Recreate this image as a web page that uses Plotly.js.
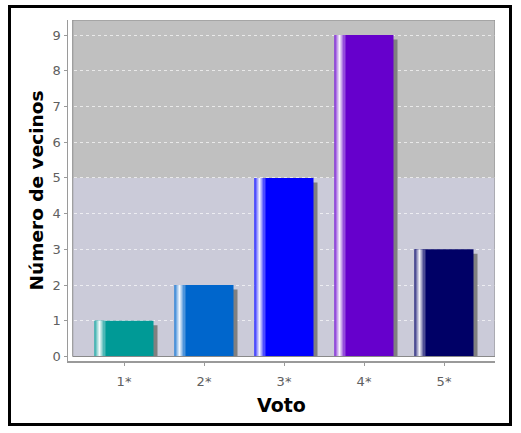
<!DOCTYPE html>
<html>
<head>
<meta charset="utf-8">
<script src="https://cdn.plot.ly/plotly-3.0.1.min.js"></script>
<style>
  body { margin: 0; background: #fff; }
  #wrap { position: relative; width: 521px; height: 433px; }
  #chart { width: 521px; height: 433px; }
  #frame { position: absolute; left: 8px; top: 5px; width: 498px; height: 415px;
           border: 3px solid #000; pointer-events: none; }
</style>
</head>
<body>
<div id="wrap">
  <div id="chart"></div>
  <div id="frame"></div>
</div>
<script>
// Data
let votos = ["1*", "2*", "3*", "4*", "5*"];
let vecinos = [1, 2, 5, 9, 3];
let barColors = ["#009a96", "#0066cc", "#0000ff", "#6600cc", "#000066"];
let yTicks = [0, 1, 2, 3, 4, 5, 6, 7, 8, 9];

// Mix a hex colour with white
function lighten(hex, t) {
    let n = parseInt(hex.slice(1), 16);
    let r = (n >> 16) & 255, g = (n >> 8) & 255, b = n & 255;
    let f = c => Math.round(c + (255 - c) * t);
    return "rgb(" + f(r) + "," + f(g) + "," + f(b) + ")";
}

// Geometry of the bars in category units (80 px per category)
let px = 1 / 80;
let barW = 59 * px;
let left = -barW / 2;
let shadowDx = 4 * px;
let shadowDy = 4.5 / 35.72;

let xRange = [-0.70, 4.6375];
let yRange = [-0.126, 9.42];
let bgLeft = -0.641;

let common = { type: 'bar', x: votos, hoverinfo: 'skip', showlegend: false };

let traces = [
    // shadow
    Object.assign({}, common, {
        y: vecinos.map(v => v - shadowDy),
        offset: left + shadowDx, width: barW,
        marker: { color: '#808080', line: { width: 0 } }
    }),
    // main bars
    Object.assign({}, common, {
        y: vecinos, offset: left, width: barW,
        marker: { color: barColors, line: { width: 0 } }
    }),
    // gradient highlight strips on the left of each bar
    Object.assign({}, common, {
        y: vecinos, offset: left, width: 11 * px,
        marker: { color: barColors.map(c => lighten(c, 0.3)), line: { width: 0 } }
    }),
    Object.assign({}, common, {
        y: vecinos, offset: left + 2 * px, width: 6 * px,
        marker: { color: barColors.map(c => lighten(c, 0.65)), line: { width: 0 } }
    }),
    Object.assign({}, common, {
        y: vecinos, offset: left + 4 * px, width: 2 * px,
        marker: { color: barColors.map(c => lighten(c, 0.95)), line: { width: 0 } }
    })
];

let layout = {
    width: 521,
    height: 433,
    margin: { l: 68, r: 26, t: 20, b: 72 },
    paper_bgcolor: '#ffffff',
    plot_bgcolor: '#ffffff',
    barmode: 'overlay',
    hovermode: false,
    showlegend: false,
    font: { family: 'DejaVu Sans, Verdana, sans-serif', color: '#555555', size: 12 },
    xaxis: {
        type: 'category',
        range: xRange,
        fixedrange: true,
        showgrid: false,
        zeroline: false,
        showline: true,
        linecolor: '#9a9a9a',
        linewidth: 1.5,
        ticks: 'outside',
        ticklen: 3,
        tickcolor: '#9a9a9a',
        ticklabelstandoff: 5,
        tickfont: { size: 13, color: '#606060' },
        title: {
            text: 'Voto',
            font: { size: 19, color: '#000000', weight: 'bold' },
            standoff: 10
        }
    },
    yaxis: {
        range: yRange,
        fixedrange: true,
        tickvals: yTicks,
        automargin: true,
        showgrid: true,
        gridcolor: 'rgba(255,255,255,0.65)',
        griddash: '3px,3px',
        gridwidth: 1,
        zeroline: false,
        showline: true,
        linecolor: '#9a9a9a',
        linewidth: 1.5,
        ticks: 'outside',
        ticklen: 3,
        tickcolor: '#9a9a9a',
        tickfont: { size: 13, color: '#606060' },
        title: {
            text: 'Número de vecinos',
            font: { size: 18.5, color: '#000000', weight: 'bold' },
            standoff: 4
        }
    },
    shapes: [
        { type: 'rect', layer: 'below', xref: 'x', yref: 'y',
          x0: bgLeft, x1: xRange[1], y0: 0, y1: 5,
          fillcolor: '#cbcbd9', line: { width: 0 } },
        { type: 'rect', layer: 'below', xref: 'x', yref: 'y',
          x0: bgLeft, x1: xRange[1], y0: 5, y1: yRange[1],
          fillcolor: '#c0c0c0', line: { width: 0 } },
        { type: 'rect', layer: 'above', xref: 'x', yref: 'y',
          x0: bgLeft, x1: xRange[1], y0: 0, y1: yRange[1],
          fillcolor: 'rgba(0,0,0,0)', line: { width: 1, color: '#8a8a8a' } }
    ]
};

Plotly.newPlot('chart', traces, layout, { displayModeBar: false, staticPlot: true });
</script>
</body>
</html>
